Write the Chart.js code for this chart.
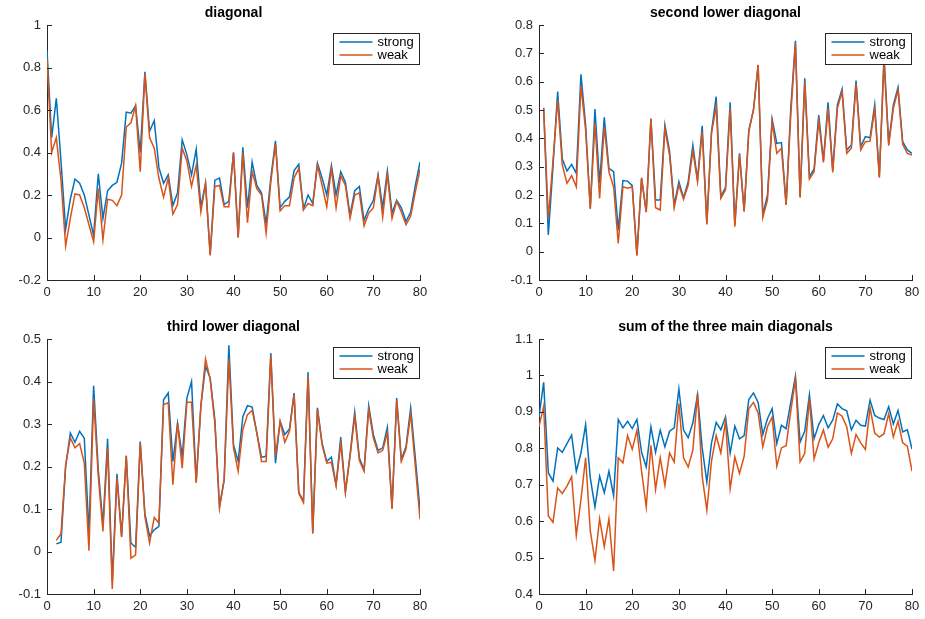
<!DOCTYPE html>
<html><head><meta charset="utf-8">
<script src="https://cdn.jsdelivr.net/npm/chart.js@4.4.0/dist/chart.umd.min.js"></script>
<style>
html,body{margin:0;padding:0;background:#fff;}
#wrap{position:relative;width:925px;height:619px;overflow:hidden;}
canvas{position:absolute;}
</style></head><body><div id="wrap">
<canvas id="c1" width="462" height="309" style="left:0px;top:0px;width:462px;height:309px"></canvas>
<canvas id="c2" width="463" height="309" style="left:462px;top:0px;width:463px;height:309px"></canvas>
<canvas id="c3" width="462" height="310" style="left:0px;top:309px;width:462px;height:310px"></canvas>
<canvas id="c4" width="463" height="310" style="left:462px;top:309px;width:463px;height:310px"></canvas>
</div>
<script>
// ---- data ----
const seriesNames = ['strong', 'weak'];
const titles = ['diagonal', 'second lower diagonal', 'third lower diagonal', 'sum of the three main diagonals'];
const xTicks = [0, 10, 20, 30, 40, 50, 60, 70, 80];

const diagStart = 0;
const diagStrong = [0.88,0.47,0.655,0.36,0.04,0.18,0.275,0.255,0.20,0.105,0.01,0.30,0.09,0.22,0.245,0.26,0.35,0.59,0.585,0.62,0.40,0.78,0.50,0.55,0.33,0.255,0.295,0.15,0.21,0.46,0.39,0.295,0.415,0.145,0.255,-0.08,0.27,0.28,0.155,0.17,0.40,0.00,0.425,0.14,0.355,0.245,0.21,0.065,0.28,0.455,0.14,0.17,0.19,0.315,0.345,0.135,0.20,0.16,0.35,0.28,0.20,0.34,0.20,0.31,0.26,0.105,0.22,0.24,0.08,0.135,0.175,0.295,0.14,0.315,0.115,0.175,0.14,0.075,0.12,0.245,0.355];
const diagWeak = [0.84,0.40,0.47,0.27,-0.04,0.09,0.205,0.20,0.14,0.06,-0.02,0.23,-0.01,0.18,0.175,0.15,0.20,0.52,0.54,0.62,0.31,0.77,0.47,0.42,0.28,0.19,0.28,0.11,0.155,0.42,0.36,0.24,0.34,0.12,0.255,-0.085,0.24,0.245,0.145,0.145,0.40,0.00,0.40,0.07,0.31,0.23,0.20,0.02,0.26,0.44,0.125,0.15,0.15,0.28,0.325,0.13,0.16,0.15,0.34,0.245,0.145,0.325,0.14,0.29,0.245,0.09,0.20,0.21,0.055,0.115,0.14,0.29,0.095,0.295,0.09,0.17,0.12,0.06,0.10,0.215,0.32];

const secondStart = 1;
const secondStrong = [0.508,0.059,0.30,0.565,0.327,0.285,0.308,0.276,0.626,0.447,0.153,0.503,0.241,0.474,0.294,0.282,0.076,0.251,0.249,0.233,-0.012,0.259,0.141,0.47,0.182,0.182,0.447,0.355,0.165,0.247,0.19,0.247,0.376,0.253,0.444,0.10,0.424,0.547,0.194,0.226,0.527,0.094,0.347,0.144,0.429,0.50,0.659,0.129,0.20,0.468,0.382,0.385,0.167,0.506,0.744,0.194,0.612,0.265,0.292,0.482,0.321,0.527,0.288,0.518,0.574,0.359,0.376,0.604,0.371,0.406,0.402,0.518,0.265,0.69,0.382,0.518,0.58,0.388,0.359,0.347];
const secondWeak = [0.506,0.118,0.32,0.535,0.306,0.241,0.268,0.229,0.586,0.429,0.151,0.453,0.188,0.441,0.282,0.229,0.029,0.229,0.224,0.229,-0.014,0.261,0.139,0.468,0.155,0.147,0.433,0.341,0.155,0.235,0.185,0.235,0.355,0.247,0.424,0.096,0.418,0.512,0.188,0.218,0.506,0.088,0.341,0.141,0.424,0.50,0.659,0.121,0.182,0.459,0.347,0.365,0.165,0.482,0.735,0.19,0.598,0.256,0.282,0.461,0.315,0.506,0.28,0.506,0.565,0.347,0.365,0.594,0.359,0.388,0.39,0.504,0.261,0.675,0.374,0.506,0.571,0.379,0.347,0.341];

const thirdStart = 2;
const thirdStrong = [0.018,0.022,0.20,0.279,0.257,0.283,0.266,0.043,0.39,0.192,0.063,0.265,-0.07,0.183,0.035,0.225,0.02,0.01,0.259,0.089,0.037,0.051,0.059,0.357,0.373,0.212,0.302,0.224,0.361,0.40,0.165,0.342,0.436,0.408,0.31,0.106,0.169,0.485,0.251,0.212,0.317,0.343,0.34,0.279,0.222,0.224,0.467,0.208,0.306,0.275,0.288,0.373,0.139,0.118,0.422,0.045,0.338,0.255,0.212,0.222,0.157,0.269,0.141,0.228,0.328,0.22,0.192,0.343,0.275,0.238,0.244,0.292,0.102,0.361,0.216,0.247,0.338,0.22,0.098];
const thirdWeak = [0.026,0.042,0.204,0.267,0.244,0.254,0.208,0.002,0.359,0.177,0.047,0.244,-0.088,0.173,0.034,0.225,-0.016,-0.008,0.255,0.082,0.02,0.08,0.067,0.346,0.35,0.157,0.302,0.196,0.351,0.351,0.161,0.342,0.453,0.405,0.302,0.102,0.169,0.453,0.244,0.189,0.287,0.322,0.332,0.279,0.212,0.212,0.461,0.224,0.306,0.257,0.283,0.369,0.137,0.115,0.414,0.042,0.335,0.251,0.208,0.21,0.155,0.255,0.139,0.224,0.318,0.214,0.189,0.334,0.267,0.232,0.238,0.279,0.10,0.356,0.212,0.241,0.324,0.20,0.076];

const sumStart = 0;
const sumStrong = [0.886,0.981,0.733,0.71,0.801,0.789,0.813,0.836,0.737,0.787,0.865,0.719,0.639,0.723,0.678,0.737,0.67,0.879,0.856,0.874,0.854,0.879,0.789,0.749,0.859,0.789,0.85,0.804,0.847,0.856,0.963,0.85,0.829,0.87,0.947,0.801,0.707,0.815,0.871,0.851,0.886,0.787,0.861,0.826,0.835,0.934,0.952,0.926,0.838,0.881,0.909,0.813,0.863,0.854,0.926,0.998,0.817,0.847,0.947,0.826,0.865,0.89,0.856,0.877,0.922,0.909,0.903,0.851,0.877,0.863,0.861,0.932,0.89,0.883,0.879,0.914,0.867,0.904,0.845,0.851,0.798];
const sumWeak = [0.859,0.915,0.614,0.597,0.691,0.676,0.696,0.722,0.561,0.659,0.774,0.573,0.492,0.607,0.53,0.606,0.463,0.774,0.76,0.835,0.797,0.849,0.737,0.639,0.808,0.687,0.774,0.698,0.787,0.762,0.923,0.774,0.749,0.795,0.95,0.723,0.63,0.765,0.835,0.787,0.874,0.689,0.776,0.731,0.778,0.909,0.926,0.897,0.804,0.859,0.886,0.751,0.801,0.807,0.902,0.99,0.763,0.786,0.936,0.771,0.815,0.85,0.803,0.826,0.897,0.888,0.859,0.786,0.838,0.815,0.797,0.911,0.842,0.831,0.84,0.895,0.831,0.874,0.815,0.806,0.737];

const yRanges = [[-0.2, 1, 0.2], [-0.1, 0.8, 0.1], [-0.1, 0.5, 0.1], [0.4, 1.1, 0.1]];

// ---- styling ----
const BLUE = '#0072BD', ORANGE = '#D95319', AXIS = '#262626';
const FONT = '"Liberation Sans", Arial, Helvetica, sans-serif';

function toXY(start, arr) { return arr.map((v, i) => ({x: start + i, y: v})); }

const decor = {
  id: 'decor',
  afterDraw(chart) {
    const ctx = chart.ctx, a = chart.chartArea;
    const o = chart.options.plugins.decor;
    ctx.save();
    // inward ticks
    ctx.strokeStyle = AXIS; ctx.lineWidth = 1;
    const xs = chart.scales.x, ys = chart.scales.y;
    ctx.beginPath();
    xs.ticks.forEach(t => {
      const px = Math.round(xs.getPixelForValue(t.value)) + 0.5;
      ctx.moveTo(px, a.bottom); ctx.lineTo(px, a.bottom - 5);
    });
    ys.ticks.forEach(t => {
      const py = Math.round(ys.getPixelForValue(t.value)) + 0.5;
      ctx.moveTo(a.left, py); ctx.lineTo(a.left + 5, py);
    });
    ctx.stroke();
    // title
    ctx.fillStyle = '#000';
    ctx.font = 'bold 14px ' + FONT;
    ctx.textAlign = 'center'; ctx.textBaseline = 'middle';
    ctx.fillText(o.title, (a.left + a.right) / 2, a.top - 12);
    // legend
    const bw = 86, bh = 31;
    const bx = Math.round(a.right - 1 - bw) + 0.5, by = Math.round(a.top + 8) + 0.5;
    ctx.fillStyle = '#fff';
    ctx.fillRect(bx, by, bw, bh);
    ctx.strokeStyle = '#262626'; ctx.lineWidth = 1;
    ctx.strokeRect(bx, by, bw, bh);
    const cols = [BLUE, ORANGE];
    ctx.font = '13px ' + FONT;
    ctx.textAlign = 'left'; ctx.textBaseline = 'middle';
    seriesNames.forEach((n, i) => {
      const ry = by + 8.5 + i * 13;
      ctx.strokeStyle = cols[i]; ctx.lineWidth = 1.5;
      ctx.beginPath(); ctx.moveTo(bx + 6, ry); ctx.lineTo(bx + 39, ry); ctx.stroke();
      ctx.fillStyle = '#000';
      ctx.fillText(n, bx + 44, ry);
    });
    ctx.restore();
  }
};

function makeChart(id, idx, start, strong, weak, leftW, bottomH, padTop, padRight) {
  const [ymin, ymax, ystep] = yRanges[idx];
  return new Chart(document.getElementById(id), {
    type: 'line',
    data: {
      datasets: [
        {label: seriesNames[1], data: toXY(start, weak), borderColor: ORANGE, borderWidth: 1.5, pointRadius: 0, tension: 0, fill: false},
        {label: seriesNames[0], data: toXY(start, strong), borderColor: BLUE, borderWidth: 1.5, pointRadius: 0, tension: 0, fill: false}
      ]
    },
    options: {
      responsive: false, animation: false, devicePixelRatio: 1,
      layout: {padding: {top: padTop, right: padRight, left: 0, bottom: 0}},
      plugins: {legend: {display: false}, tooltip: {enabled: false}, decor: {title: titles[idx]}},
      scales: {
        x: {
          type: 'linear', min: 0, max: 80,
          afterBuildTicks: s => { s.ticks = xTicks.map(v => ({value: v})); },
          afterFit: s => { s.height = bottomH; },
          grid: {display: false, drawTicks: false},
          border: {display: true, color: AXIS, width: 1},
          ticks: {padding: 5, color: AXIS, font: {family: FONT, size: 13}, maxRotation: 0, callback: v => String(v)}
        },
        y: {
          type: 'linear', min: ymin, max: ymax,
          ticks: {stepSize: ystep, padding: 6, color: AXIS, font: {family: FONT, size: 13},
                  callback: v => String(Math.round(v * 10) / 10 + 0)},
          afterFit: s => { s.width = leftW; },
          grid: {display: false, drawTicks: false},
          border: {display: true, color: AXIS, width: 1}
        }
      }
    },
    plugins: [decor]
  });
}

makeChart('c1', 0, diagStart, diagStrong, diagWeak, 47, 29, 25, 42);
makeChart('c2', 1, secondStart, secondStrong, secondWeak, 77, 29, 25, 13);
makeChart('c3', 2, thirdStart, thirdStrong, thirdWeak, 47, 25, 30, 42);
makeChart('c4', 3, sumStart, sumStrong, sumWeak, 77, 25, 30, 13);
</script>
</body></html>
